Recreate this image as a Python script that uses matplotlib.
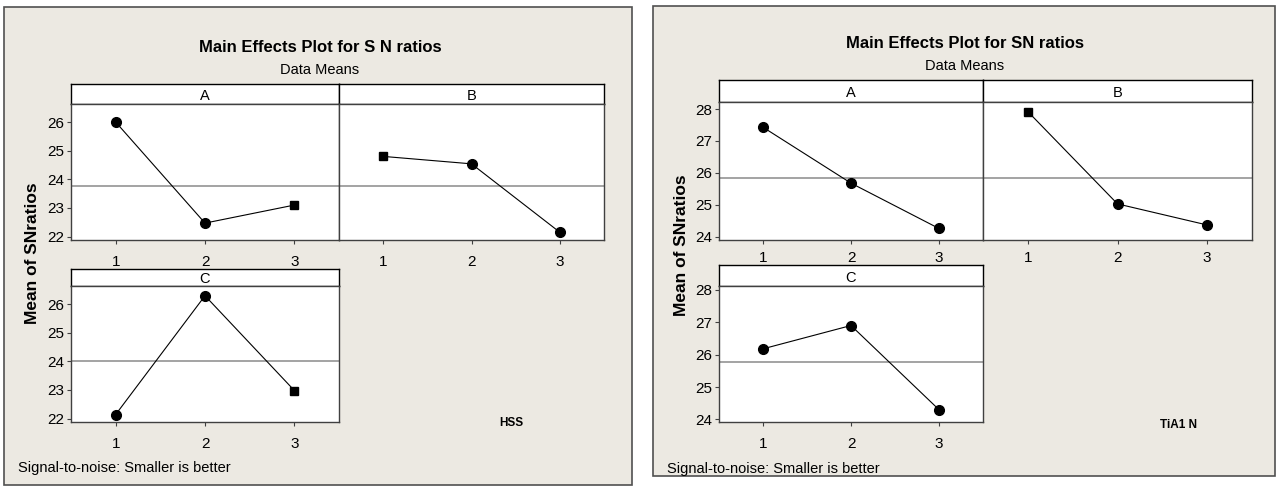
import matplotlib
matplotlib.use("Agg")
import matplotlib.pyplot as plt
from matplotlib.patches import Rectangle

# ---------------- data ----------------
levels = [1, 2, 3]
level_labels = ["1", "2", "3"]
factors = ["A", "B", "C"]

hss_A = [26.0, 22.47, 23.1]
hss_B = [24.8, 24.54, 22.15]
hss_C = [22.14, 26.29, 22.98]
hss_ref = [23.76, 23.76, 24.0]
hss_yticks = [22, 23, 24, 25, 26]

tialn_A = [27.43, 25.68, 24.26]
tialn_B = [27.92, 25.03, 24.37]
tialn_C = [26.18, 26.9, 24.3]
tialn_ref = [25.85, 25.85, 25.78]
tialn_yticks = [24, 25, 26, 27, 28]

title_hss = "Main Effects Plot for S N ratios"
title_tialn = "Main Effects Plot for SN ratios"
subtitle = "Data Means"
ylabel = "Mean of SNratios"
footer = "Signal-to-noise: Smaller is better"
tag_hss = "HSS"
tag_tialn = "TiA1 N"

# ---------------- style ----------------
W, H = 1280, 487
BG = "#ECE9E2"
plt.rcParams["font.family"] = ["Liberation Sans", "DejaVu Sans"]

fig = plt.figure(figsize=(W / 100, H / 100), dpi=100)
fig.patch.set_facecolor("white")


def rect(x0, x1, ytop, ybot):
    return [x0 / W, 1 - ybot / H, (x1 - x0) / W, (ybot - ytop) / H]


def panel_box(x0, x1, ytop, ybot):
    fig.add_artist(Rectangle((x0 / W, 1 - ybot / H), (x1 - x0) / W, (ybot - ytop) / H,
                             transform=fig.transFigure, facecolor=BG,
                             edgecolor="#505050", linewidth=1.2, zorder=0))


def strip(x0, x1, ytop, ybot, label):
    sa = fig.add_axes(rect(x0, x1, ytop, ybot))
    sa.set_facecolor("white")
    sa.set_xticks([])
    sa.set_yticks([])
    for s in sa.spines.values():
        s.set_color("black")
        s.set_linewidth(1.0)
    sa.text(0.5, 0.4, label, ha="center", va="center", fontsize=10.5,
            transform=sa.transAxes)
    return sa


def effect_axes(x0, x1, ytop, ybot, values, ref, ylim, yticks, show_y, squares, xpad):
    ax = fig.add_axes(rect(x0, x1, ytop, ybot))
    ax.set_facecolor("white")
    ax.plot(levels, values, color="black", linewidth=0.8, zorder=3)
    for i, (lv, v) in enumerate(zip(levels, values)):
        ax.plot([lv], [v], marker="s" if i in squares else "o",
                markersize=5.8 if i in squares else 7, color="black", zorder=4,
                linestyle="none")
    ax.axhline(ref, color="#8a8a8a", linewidth=1.1, zorder=2)
    ax.set_xlim(0.5, 3.5)
    ax.set_ylim(*ylim)
    ax.set_xticks(levels)
    ax.set_xticklabels(level_labels)
    ax.set_yticks(yticks)
    ax.tick_params(axis="x", length=3, pad=xpad, labelsize=11, color="#404040")
    ax.tick_params(axis="y", length=3, pad=2, labelsize=11, color="#404040")
    if not show_y:
        ax.set_yticklabels([])
        ax.tick_params(axis="y", length=0)
    for s in ax.spines.values():
        s.set_color("#404040")
        s.set_linewidth(1.0)
    return ax


# ================= left panel (HSS) =================
panel_box(4, 632, 7, 485)
fig.text(320 / W, 1 - 47 / H, title_hss, ha="center", va="center",
         fontsize=12, fontweight="bold")
fig.text(320 / W, 1 - 70 / H, subtitle, ha="center", va="center", fontsize=10.5)

ylim_hss = (21.88, 26.63)
strip(71, 339, 84, 104, factors[0])
strip(339, 604, 84, 104, factors[1])
effect_axes(71, 339, 104, 240, hss_A, hss_ref[0], ylim_hss, hss_yticks, True, [2], 7.5)
effect_axes(339, 604, 104, 240, hss_B, hss_ref[1], ylim_hss, hss_yticks, False, [0], 7.5)
strip(71, 339, 269, 286, factors[2])
effect_axes(71, 339, 286, 422, hss_C, hss_ref[2], ylim_hss, hss_yticks, True, [2], 7.5)

fig.text(33 / W, 1 - 253 / H, ylabel, rotation=90, ha="center", va="center",
         fontsize=12.5, fontweight="bold")
fig.text(511 / W, 1 - 423 / H, tag_hss, ha="center", va="center",
         fontsize=8.5, fontweight="bold")
fig.text(18 / W, 1 - 468 / H, footer, ha="left", va="center", fontsize=10.5)

# ================= right panel (TiAlN) =================
panel_box(653, 1275, 6, 476)
fig.text(965 / W, 1 - 44 / H, title_tialn, ha="center", va="center",
         fontsize=12, fontweight="bold")
fig.text(965 / W, 1 - 66 / H, subtitle, ha="center", va="center", fontsize=10.5)

ylim_t = (23.9, 28.22)
strip(719, 983, 80, 102, factors[0])
strip(983, 1252, 80, 102, factors[1])
effect_axes(719, 983, 102, 240, tialn_A, tialn_ref[0], ylim_t, tialn_yticks, True, [], 5)
effect_axes(983, 1252, 102, 240, tialn_B, tialn_ref[1], ylim_t, tialn_yticks, False, [0], 5)
strip(719, 983, 265, 286, factors[2])
effect_axes(719, 983, 286, 422, tialn_C, tialn_ref[2], (23.92, 28.12), tialn_yticks, True, [], 7.5)

fig.text(681 / W, 1 - 245 / H, ylabel, rotation=90, ha="center", va="center",
         fontsize=12.5, fontweight="bold")
fig.text(1179 / W, 1 - 425 / H, tag_tialn, ha="center", va="center",
         fontsize=8.5, fontweight="bold")
fig.text(667 / W, 1 - 469 / H, footer, ha="left", va="center", fontsize=10.5)

fig.savefig("out.png", dpi=100, facecolor=fig.get_facecolor())
